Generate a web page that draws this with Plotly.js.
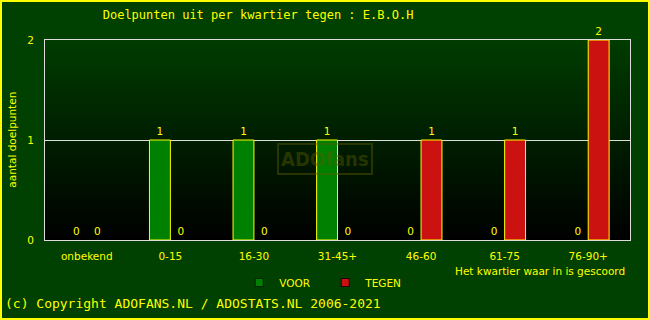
<!DOCTYPE html>
<html><head><meta charset="utf-8">
<script src="https://cdn.plot.ly/plotly-3.0.1.min.js"></script>
<style>
html,body{margin:0;padding:0;background:#004000;}
#chart{width:650px;height:320px;position:relative;}
#chart:after{content:"";position:absolute;left:0;top:0;right:0;bottom:0;border:2px solid #ffff00;pointer-events:none;box-sizing:border-box;}
</style></head>
<body><div id="chart"></div>
<script>
var categories = ['onbekend','0-15','16-30','31-45+','46-60','61-75','76-90+'];
var voor = [0,1,1,1,0,0,0];
var tegen = [0,0,0,0,1,1,2];
var yTicks = [0,1,2];

var grad = 'data:image/svg+xml;charset=utf-8,' + encodeURIComponent(
 '<svg xmlns="http://www.w3.org/2000/svg" width="100" height="100" preserveAspectRatio="none">' +
 '<defs><linearGradient id="g" x1="0" y1="0" x2="0" y2="1">' +
 '<stop offset="0" stop-color="#003c00"/><stop offset="1" stop-color="#000000"/></linearGradient></defs>' +
 '<rect width="100" height="100" fill="url(#g)"/></svg>');

var lblFont = {family:'DejaVu Sans, sans-serif', size:10.5, color:'#ffff00'};

function lw(arr){ return arr.map(function(v){ return v === 0 ? 0 : 1; }); }

var traces = [
 {type:'bar', name:'VOOR', x:categories, y:voor, text:voor.map(String), textposition:'outside',
  textfont:lblFont, cliponaxis:false, showlegend:false,
  marker:{color:'#008000', line:{color:'#ffff00', width:lw(voor)}}},
 {type:'bar', name:'TEGEN', x:categories, y:tegen, text:tegen.map(String), textposition:'outside',
  textfont:lblFont, cliponaxis:false, showlegend:false,
  marker:{color:'#cc1111', line:{color:'#ffff00', width:lw(tegen)}}},
 {type:'scatter', mode:'markers', name:'VOOR', x:[null], y:[null], showlegend:true,
  marker:{symbol:'square', size:8, color:'#008000', line:{color:'#002000', width:1}}},
 {type:'scatter', mode:'markers', name:'TEGEN', x:[null], y:[null], showlegend:true,
  marker:{symbol:'square', size:8, color:'#cc1111', line:{color:'#200000', width:1}}}
];

var layout = {
 width:650, height:320,
 margin:{l:45, r:20, t:40, b:80},
 paper_bgcolor:'#004000', plot_bgcolor:'rgba(0,0,0,0)',
 barmode:'group', bargap:0.5, bargroupgap:0,
 showlegend:true,
 legend:{orientation:'h', x:0.332, xanchor:'left', y:-0.14, yanchor:'top',
   entrywidth:41, entrywidthmode:'pixels', itemwidth:30,
   font:{family:'DejaVu Sans, sans-serif', size:10.5, color:'#ffff00'}, bgcolor:'rgba(0,0,0,0)'},
 title:{text:'Doelpunten uit per kwartier tegen : E.B.O.H', xref:'container', x:0.397, xanchor:'center',
   y:0.955, yanchor:'middle',
   font:{family:'DejaVu Sans Mono, monospace', size:12, color:'#ffff00'}},
 xaxis:{type:'category', showline:true, mirror:true, linecolor:'#dddddd', linewidth:1,
   showgrid:false, ticks:'outside', ticklen:6, tickcolor:'rgba(0,0,0,0)',
   tickfont:lblFont, fixedrange:true},
 yaxis:{range:[0,2], tickvals:yTicks, ticktext:yTicks.map(String), showline:true, mirror:true,
   linecolor:'#dddddd', linewidth:1, gridcolor:'#dddddd', gridwidth:1, zeroline:false,
   ticks:'outside', ticklen:8, tickcolor:'rgba(0,0,0,0)', tickfont:lblFont, fixedrange:true},
 images:[{source:grad, xref:'paper', yref:'paper', x:0, y:1, sizex:1, sizey:1,
   sizing:'stretch', layer:'below', xanchor:'left', yanchor:'top'}],
 annotations:[
  {text:'aantal doelpunten', textangle:-90, xref:'paper', yref:'paper', x:-0.057, y:0.5,
   xanchor:'center', yanchor:'middle', showarrow:false, font:lblFont},
  {text:'Het kwartier waar in is gescoord', xref:'paper', yref:'paper', x:0.995, y:-0.155,
   xanchor:'right', yanchor:'middle', showarrow:false, font:lblFont},
  {text:'(c) Copyright ADOFANS.NL / ADOSTATS.NL 2006-2021', xref:'paper', yref:'paper',
   x:-0.071, y:-0.315, xanchor:'left', yanchor:'middle', showarrow:false,
   font:{family:'DejaVu Sans Mono, monospace', size:13, color:'#ffff00'}},
  {text:'<b>ADOfans</b>', xref:'paper', yref:'paper', x:0.479, y:0.405, xanchor:'center', yanchor:'middle',
   showarrow:false, font:{family:'DejaVu Sans Condensed, sans-serif', size:20, color:'rgba(90,90,0,0.45)'},
   bordercolor:'rgba(90,90,0,0.45)', borderwidth:2, borderpad:2}
 ]
};

Plotly.newPlot('chart', traces, layout, {displayModeBar:false, staticPlot:true});
</script></body></html>
